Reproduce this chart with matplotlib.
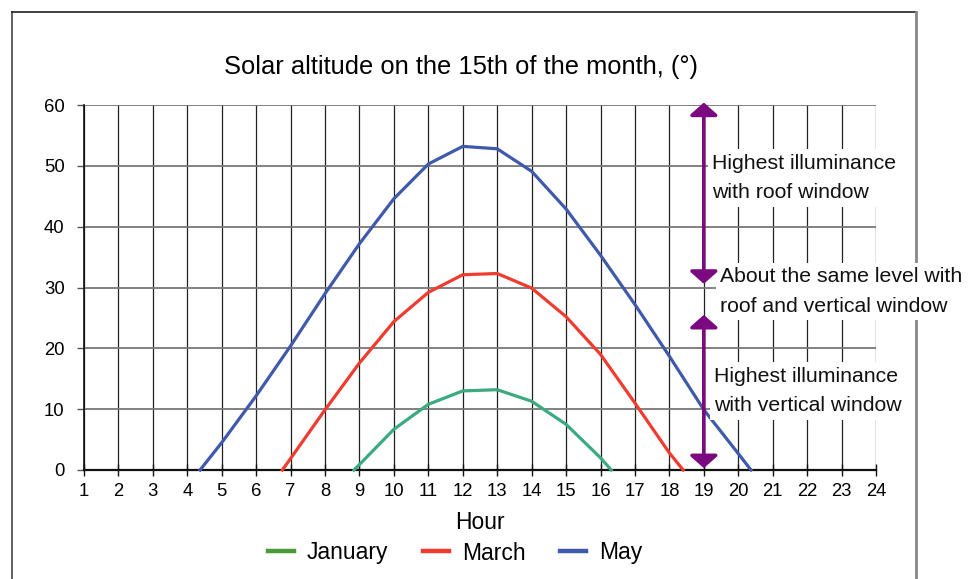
import matplotlib
matplotlib.use("Agg")
import matplotlib.pyplot as plt
from matplotlib.lines import Line2D

plt.rcParams['font.family'] = ['Liberation Sans', 'DejaVu Sans']

# ---- data ----
jan_hours = [8.84, 9, 10, 11, 12, 13, 14, 15, 16, 16.31]
jan_alt = [0, 0.9, 6.7, 10.8, 13.0, 13.2, 11.3, 7.5, 2.0, 0]

mar_hours = [6.76, 7, 8, 9, 10, 11, 12, 13, 14, 15, 16, 17, 18, 18.4]
mar_alt = [0, 1.9, 9.9, 17.6, 24.4, 29.2, 32.1, 32.3, 29.9, 25.2, 19.0, 11.0, 2.8, 0]

may_hours = [4.37, 5, 6, 7, 8, 9, 10, 11, 12, 13, 14, 15, 16, 17, 18, 19, 20, 20.37]
may_alt = [0, 4.5, 12.2, 20.4, 29.0, 37.2, 44.6, 50.3, 53.2, 52.8, 49.1, 42.9, 35.3, 27.2, 18.7, 9.9, 2.7, 0]

x_ticks = list(range(1, 25))
y_ticks = [0, 10, 20, 30, 40, 50, 60]

series_names = ["January", "March", "May"]
line_colors = ["#3BAA7E", "#F03C2E", "#3F5AAA"]
legend_colors = ["#4A9A3A", "#F03C2E", "#3F5AAA"]

arrow_x = 19
upper_arrow = (60.4, 30.6)
lower_arrow = (25.5, 0.3)
notes = [
    ("Highest illuminance\nwith roof window", 19.24, 48.0),
    ("About the same level with\nroof and vertical window", 19.47, 29.4),
    ("Highest illuminance\nwith vertical window", 19.30, 13.0),
]
title = "Solar altitude on the 15th of the month, (°)"

# ---- figure ----
fig = plt.figure(figsize=(9.73, 5.79), dpi=100)
ax = fig.add_axes([84 / 973, 1 - 470 / 579, (876 - 84) / 973, (470 - 105) / 579])

# outer frame (left, top, right)
W, H = 973, 579
fl = 12 / W; fr = 916 / W; ft = 1 - 12 / H
fig.add_artist(Line2D([fl, fl], [0, ft], transform=fig.transFigure, color="#555555", lw=1.3, zorder=-1))
fig.add_artist(Line2D([fl, fr], [ft, ft], transform=fig.transFigure, color="#222222", lw=1.2, zorder=-1))
fig.add_artist(Line2D([fr, fr], [0, ft], transform=fig.transFigure, color="#888888", lw=2.0, zorder=-1))

for xs, ys, c in zip([jan_hours, mar_hours, may_hours], [jan_alt, mar_alt, may_alt], line_colors):
    ax.plot(xs, ys, color=c, lw=2.3, solid_joinstyle="miter", zorder=3, clip_on=False)

ax.set_xlim(1, 24)
ax.set_ylim(0, 60)
ax.set_xticks(x_ticks)
ax.set_yticks(y_ticks)
ax.tick_params(axis="x", direction="inout", length=8, width=1, labelsize=13.3, pad=5, color="#111111")
ax.tick_params(axis="y", direction="out", length=5, width=1, labelsize=13.3, pad=9, color="#555555")

ax.grid(axis="x", color="#222222", lw=0.9, zorder=1)
ax.grid(axis="y", color="#777777", lw=1.3, zorder=1)
ax.set_axisbelow(True)
for s in ["top", "right"]:
    ax.spines[s].set_visible(False)
ax.spines["left"].set_color("#111111")
ax.spines["left"].set_linewidth(1.2)
ax.spines["bottom"].set_color("#111111")
ax.spines["bottom"].set_linewidth(1.6)
ax.spines["bottom"].set_zorder(2)

ax.set_xlabel("Hour", fontsize=16.5, labelpad=8)
fig.text(461 / W, 1 - 67 / H, title, fontsize=18.4, ha="center", va="center")

# arrows
purple = "#7B0A80"
arrowprops = dict(arrowstyle="<|-|>,head_length=0.75,head_width=0.85", color=purple,
                  lw=2.6, shrinkA=0, shrinkB=0, mutation_scale=10)
ax.annotate("", xy=(arrow_x, upper_arrow[1]), xytext=(arrow_x, upper_arrow[0]),
            arrowprops=arrowprops, annotation_clip=False, zorder=5)
ax.annotate("", xy=(arrow_x, lower_arrow[1]), xytext=(arrow_x, lower_arrow[0]),
            arrowprops=arrowprops, annotation_clip=False, zorder=5)

for txt, x, y in notes:
    ax.text(x, y, txt, fontsize=15.3, ha="left", va="center", linespacing=1.72,
            color="#111111", clip_on=False, zorder=4,
            bbox=dict(boxstyle="square,pad=0.2", facecolor="white", edgecolor="none"))

handles = [Line2D([0], [0], color=c, lw=3.2) for c in legend_colors]
fig.legend(handles, series_names, loc="center", bbox_to_anchor=(455 / W, 1 - 553 / H),
           ncol=3, frameon=False, fontsize=16.5, handlelength=1.15, handletextpad=0.55,
           columnspacing=1.5)

fig.savefig("out.png", dpi=100)
